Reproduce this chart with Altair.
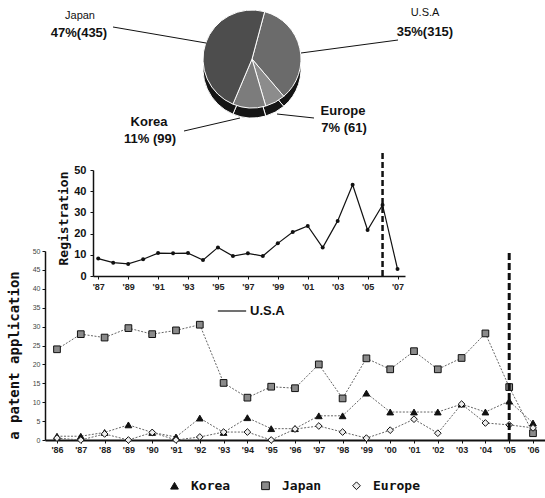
import math
import altair as alt
import pandas as pd

# ---------------- data ----------------
pie_names = ["U.S.A", "Europe", "Korea", "Japan"]
pie_counts = [315, 61, 99, 435]
pie_percents = [35, 7, 11, 47]

app_years = list(range(1986, 2007))
korea_apps = [1, 1, 2, 4, 2, 0.8, 5.8, 2, 5.9, 3, 3, 6.4, 6.4, 12.4, 7.4, 7.4, 7.4, 9.5, 7.4, 10.3, 4.5]
japan_apps = [24, 28, 27.1, 29.6, 28, 29, 30.5, 15.1, 11.2, 14.1, 13.7, 20, 11, 21.6, 18.7, 23.5, 18.7, 21.7, 28.2, 14, 1.8]
europe_apps = [0.5, 0, 1.6, 0, 2, 0, 0.8, 2.1, 2.1, 0, 2.9, 3.7, 2.1, 0.5, 2.6, 5.5, 1.8, 9.5, 4.5, 4, 3.2]

reg_years = list(range(1987, 2008))
usa_regs = [8.2, 6.3, 5.7, 7.9, 10.8, 10.7, 10.8, 7.5, 13.5, 9.4, 10.7, 9.4, 15.4, 20.7, 23.6, 13.4, 26, 43, 21.7, 33.5, 3.3]

app_y_ticks = list(range(0, 51, 5))
reg_y_ticks = list(range(0, 51, 10))
reg_x_ticks = list(range(1987, 2008, 2))
app_cutoff = [2005]
reg_cutoff = [2006]

series_names = ["Korea", "Japan", "Europe"]

# ---------------- layout ----------------
LEFT, TOP = 45, 251
PW, PH = 500, 189


def rx(x):
    return x - LEFT


def ry(y):
    return y - TOP


year_label = "\"'\" + substring(toString(datum.value), 2, 4)"

main_rows = []
for name, vals in zip(series_names, [korea_apps, japan_apps, europe_apps]):
    for yr, v in zip(app_years, vals):
        main_rows.append({"year": yr, "value": v, "series": name})
main_df = pd.DataFrame(main_rows)

main_x = alt.X(
    "year:Q",
    scale=alt.Scale(domain=[1985.496, 2006.504], nice=False, zero=False),
    axis=alt.Axis(values=app_years, labelExpr=year_label, title=None, grid=False,
                  domainColor="#111", domainWidth=2, tickColor="#111", tickSize=3,
                  labelFont="Liberation Sans", labelFontSize=9, labelFontWeight="bold",
                  labelColor="#222", labelPadding=2),
)
main_y = alt.Y(
    "value:Q",
    scale=alt.Scale(domain=[0, 50], nice=False),
    axis=alt.Axis(values=app_y_ticks, title="a patent application", grid=False,
                  titleFont="DejaVu Sans Mono", titleFontSize=14, titleFontWeight="bold",
                  titleAngle=270, titleX=-27, titleY=104, titleAlign="center",
                  titleBaseline="alphabetic", titleColor="#111",
                  labelFont="Liberation Sans", labelFontSize=7, labelColor="#444",
                  labelPadding=2, domainColor="#111", domainWidth=1.5,
                  tickColor="#111", tickSize=3),
)

legend_main = alt.Legend(orient="none", direction="horizontal", legendX=rx(168), legendY=ry(479),
                         title=None, labelFont="DejaVu Sans Mono", labelFontSize=13,
                         labelFontWeight="bold", labelColor="#111", symbolSize=60,
                         symbolStrokeColor="#111", symbolStrokeWidth=1, columnPadding=28,
                         labelOffset=10)

main_lines = alt.Chart(main_df).mark_line(color="#666", strokeWidth=1, strokeDash=[2, 1.5]).encode(
    x=main_x, y=main_y, detail="series:N")
main_points = alt.Chart(main_df).mark_point(filled=True, size=45, stroke="#111", strokeWidth=1,
                                            opacity=1).encode(
    x=main_x, y=main_y,
    shape=alt.Shape("series:N", scale=alt.Scale(domain=series_names,
                                                range=["triangle-up", "square", "diamond"]),
                    legend=legend_main),
    color=alt.Color("series:N", scale=alt.Scale(domain=series_names,
                                                range=["#111111", "#8a8a8a", "#eeeeee"]),
                    legend=legend_main),
)
cut_df = pd.DataFrame({"year": app_cutoff, "value": [0], "value2": [49.5]})
main_rule = alt.Chart(cut_df).mark_rule(color="#111", strokeWidth=3, strokeDash=[7, 3]).encode(
    x=main_x, y=main_y, y2="value2:Q")

main_layer = alt.layer(main_lines, main_points, main_rule)

# ---------------- inset ----------------
inset_df = pd.DataFrame({"year": reg_years, "reg": usa_regs, "name": ["U.S.A"] * len(reg_years)})
inset_x = alt.X(
    "year:Q",
    scale=alt.Scale(domain=[1986.65, 2007.5], range=[rx(93), rx(405)], nice=False, zero=False),
    axis=alt.Axis(orient="bottom", offset=ry(276) - PH, values=reg_x_ticks, labelExpr=year_label,
                  title=None, grid=False, domainColor="#111", domainWidth=1.5, tickColor="#111",
                  tickSize=3, labelFont="Liberation Sans", labelFontSize=9,
                  labelFontWeight="bold", labelColor="#222", labelPadding=3),
)
inset_y = alt.Y(
    "reg:Q",
    scale=alt.Scale(domain=[0, 50], range=[ry(276), ry(170)], nice=False),
    axis=alt.Axis(orient="left", offset=-rx(93), values=reg_y_ticks, title="Registration",
                  grid=False, titleFont="DejaVu Sans Mono", titleFontSize=13,
                  titleFontWeight="bold", titleAngle=270, titleX=-26, titleY=ry(218),
                  titleAlign="center", titleBaseline="alphabetic", titleColor="#111",
                  labelFont="Liberation Sans", labelFontSize=11, labelFontWeight="bold",
                  labelColor="#111", labelPadding=4, domainColor="#111", domainWidth=1.5,
                  tickColor="#111", tickSize=3),
)
inset_line = alt.Chart(inset_df).mark_line(strokeWidth=1.2).encode(
    x=inset_x, y=inset_y,
    stroke=alt.Stroke("name:N", scale=alt.Scale(domain=["U.S.A"], range=["#111111"]),
                      legend=alt.Legend(orient="none", legendX=rx(217), legendY=ry(296), title=None,
                                        symbolType="stroke", symbolSize=800,
                                        symbolStrokeWidth=1.2, labelFont="Liberation Sans",
                                        labelFontSize=13, labelFontWeight="bold",
                                        labelColor="#111", labelOffset=3)),
)
inset_points = alt.Chart(inset_df).mark_circle(size=16, color="#111", opacity=1).encode(
    x=inset_x, y=inset_y)
rcut_df = pd.DataFrame({"year": reg_cutoff, "reg": [0], "reg2": [58]})
inset_rule = alt.Chart(rcut_df).mark_rule(color="#111", strokeWidth=2.5, strokeDash=[6, 3]).encode(
    x=inset_x, y=inset_y, y2="reg2:Q")

inset_layer = alt.layer(inset_line, inset_points, inset_rule)

# ---------------- pie ----------------
pie_df = pd.DataFrame({"name": pie_names, "count": pie_counts, "ord": list(range(len(pie_names)))})
start = math.radians(15)
pie_theta = alt.Theta("count:Q", stack=True, scale=alt.Scale(range=[start, start + 2 * math.pi]))
CX, CY, R, DEPTH = 252, 59, 49, 10

pie_side = alt.Chart(pie_df).mark_arc(outerRadius=R, stroke="white", strokeWidth=1).encode(
    theta=pie_theta, order=alt.Order("ord:Q"),
    x=alt.value(rx(CX)), y=alt.value(ry(CY + DEPTH)), color=alt.value("#151515"))
pie_top = alt.Chart(pie_df).mark_arc(outerRadius=R, stroke="white", strokeWidth=1).encode(
    theta=pie_theta, order=alt.Order("ord:Q"),
    x=alt.value(rx(CX)), y=alt.value(ry(CY)),
    fill=alt.Fill("name:N", scale=alt.Scale(domain=pie_names,
                                            range=["#6b6b6b", "#8c8c8c", "#7c7c7c", "#4d4d4d"]),
                  legend=None))

label_layout = {
    "Japan": ((80, 16), (79, 33), ""),
    "U.S.A": ((425, 13), (425, 32), ""),
    "Korea": ((149, 122), (150, 139), " "),
    "Europe": ((343, 111), (344, 128), " "),
}
leaders = {
    "Japan": ((113, 27), (206, 43)),
    "U.S.A": ((398, 40), (301, 53)),
    "Korea": ((184, 131), (240, 118)),
    "Europe": ((314, 118), (277, 114)),
}
pie_text = []
for name, cnt, pct in zip(pie_names, pie_counts, pie_percents):
    (nx, ny), (vx, vy), sep = label_layout[name]
    name_w = "normal" if name in ("Japan", "U.S.A") else "bold"
    name_size = 11 if name in ("Japan", "U.S.A") else 13
    pie_text.append(alt.Chart(pie_df).transform_filter(alt.datum.name == name).mark_text(
        font="Liberation Sans", fontSize=name_size, fontWeight=name_w, color="#111").encode(
        x=alt.value(rx(nx)), y=alt.value(ry(ny)), text=alt.value(name)))
    pie_text.append(alt.Chart(pie_df).transform_filter(alt.datum.name == name).mark_text(
        font="Liberation Sans", fontSize=13, fontWeight="bold", color="#111").encode(
        x=alt.value(rx(vx)), y=alt.value(ry(vy)), text=alt.value(f"{pct}%{sep}({cnt})")))
    (ax, ay), (bx, by) = leaders[name]
    pie_text.append(alt.Chart(pie_df).transform_filter(alt.datum.name == name).mark_rule(
        color="#111", strokeWidth=1).encode(
        x=alt.value(rx(ax)), y=alt.value(ry(ay)), x2=alt.value(rx(bx)), y2=alt.value(ry(by))))

pie_layer = alt.layer(pie_side, pie_top, *pie_text)

chart = alt.layer(main_layer, inset_layer, pie_layer).resolve_scale(
    x="independent", y="independent", fill="independent", color="independent",
    stroke="independent", shape="independent"
).properties(
    width=PW, height=PH,
    padding={"left": LEFT, "top": TOP, "right": 0, "bottom": 498 - TOP - PH},
    autosize=alt.AutoSizeParams(type="none"),
    background="white",
).configure_view(strokeWidth=0)

chart.save("out.html", embed_options={"renderer": "svg", "actions": False})
